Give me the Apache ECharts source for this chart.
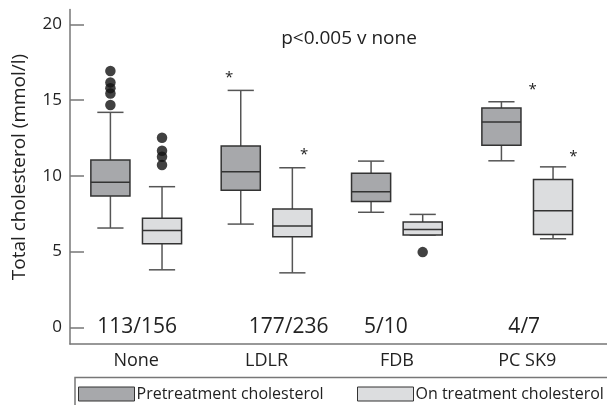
<!DOCTYPE html>
<html><head><meta charset="utf-8">
<script src="https://cdn.jsdelivr.net/npm/echarts@6/dist/echarts.min.js"></script>
<style>html,body{margin:0;padding:0;background:#fff}#c{width:607px;height:405px}</style>
</head><body><div id="c"></div>
<script>
// ---- data ----
const categories = ['None', 'LDLR', 'FDB', 'PC SK9'];
const seriesNames = ['Pretreatment cholesterol', 'On treatment cholesterol'];
// [lower whisker, Q1, median, Q3, upper whisker]
const preBoxes = [
  [6.56, 8.67, 9.58, 11.05, 14.2],
  [6.82, 9.05, 10.28, 11.97, 15.65],
  [7.6, 8.32, 8.96, 10.17, 10.98],
  [11.0, 12.02, 13.56, 14.48, 14.9]
];
const onBoxes = [
  [3.8, 5.52, 6.4, 7.2, 9.29],
  [3.6, 5.98, 6.69, 7.81, 10.54],
  [6.1, 6.1, 6.47, 6.95, 7.46],
  [5.85, 6.14, 7.7, 9.77, 10.6]
];
// outliers: [category index, value]
const preOutliers = [[0, 16.93], [0, 16.18], [0, 15.8], [0, 15.45], [0, 14.68]];
const onOutliers = [[0, 12.52], [0, 11.66], [0, 11.27], [0, 10.72], [2, 4.97]];
// significance stars: [category index, series index, value]
const stars = [[1, 0, 16.6], [1, 1, 11.56], [3, 0, 15.83], [3, 1, 11.43]];
const nLabels = ['113/156', '177/236', '5/10', '4/7'];
const yTicks = [0, 5, 10, 15, 20];
const annotation = 'p<0.005 v none';
const yTitle = 'Total cholesterol (mmol/l)';

// ---- layout / style ----
const FONT = '"Open Sans"';
const TEXT = '#222';
const AXIS = '#777';
const FILLS = ['#a7a8ab', '#dcdddf'];
const OFFS = [-0.198, 0.198];
const BOX_W = 0.3;
const starDx = [[-0.09, 0.09], [-0.09, 0.09], [0, 0], [0.24, 0.157]]; // per category, per series (category units)
const nLabelDx = [1, 22, -11, -3];

const chart = echarts.init(document.getElementById('c'));

function boxRender(si) {
  return function (params, api) {
    const i = api.value(0);
    const cx = i + OFFS[si];
    const pLo = api.coord([cx, api.value(1)]);
    const pQ1 = api.coord([cx, api.value(2)]);
    const pMd = api.coord([cx, api.value(3)]);
    const pQ3 = api.coord([cx, api.value(4)]);
    const pHi = api.coord([cx, api.value(5)]);
    const w = api.size([BOX_W, 0])[0];
    const cap = w * 0.67;
    const x = pLo[0];
    const wl = { stroke: '#555', lineWidth: 1.5 };
    return {
      type: 'group',
      children: [
        { type: 'line', shape: { x1: x, y1: pQ3[1], x2: x, y2: pHi[1] }, style: wl },
        { type: 'line', shape: { x1: x - cap / 2, y1: pHi[1], x2: x + cap / 2, y2: pHi[1] }, style: wl },
        { type: 'line', shape: { x1: x, y1: pQ1[1], x2: x, y2: pLo[1] }, style: wl },
        { type: 'line', shape: { x1: x - cap / 2, y1: pLo[1], x2: x + cap / 2, y2: pLo[1] }, style: wl },
        { type: 'rect', shape: { x: x - w / 2, y: pQ3[1], width: w, height: pQ1[1] - pQ3[1] },
          style: { fill: FILLS[si], stroke: '#333', lineWidth: 1.5 } },
        { type: 'line', shape: { x1: x - w / 2, y1: pMd[1], x2: x + w / 2, y2: pMd[1] },
          style: { stroke: '#333', lineWidth: 1.5 } }
      ]
    };
  };
}

function boxData(arr) {
  return arr.map((b, i) => [i].concat(b));
}

const series = [
  { name: seriesNames[0], type: 'custom', renderItem: boxRender(0), data: boxData(preBoxes),
    encode: { x: 0, y: [1, 2, 3, 4, 5] }, itemStyle: { color: FILLS[0], borderColor: '#333' } },
  { name: seriesNames[1], type: 'custom', renderItem: boxRender(1), data: boxData(onBoxes),
    encode: { x: 0, y: [1, 2, 3, 4, 5] }, itemStyle: { color: FILLS[1], borderColor: '#333' } },
  { type: 'scatter', symbol: 'circle', symbolSize: 10.5, itemStyle: { color: '#111' },
    data: preOutliers.map(d => [d[0] + OFFS[0], d[1]]), silent: true },
  { type: 'scatter', symbol: 'circle', symbolSize: 10.5, itemStyle: { color: '#111' },
    data: onOutliers.map(d => [d[0] + OFFS[1], d[1]]), silent: true },
  { type: 'custom', silent: true,
    data: stars.map(s => [s[0] + OFFS[s[1]] + starDx[s[0]][s[1]], s[2]]),
    renderItem: function (params, api) {
      const p = api.coord([api.value(0), api.value(1)]);
      return { type: 'text', x: p[0], y: p[1] + 2,
        style: { text: '*', fill: TEXT, font: '15px ' + FONT, align: 'center', verticalAlign: 'middle' } };
    } },
  { type: 'custom', silent: true,
    data: nLabels.map((t, i) => [i, 0]),
    renderItem: function (params, api) {
      const i = params.dataIndex;
      const p = api.coord([api.value(0), api.value(1)]);
      return { type: 'text', x: p[0] + nLabelDx[i], y: p[1],
        style: { text: nLabels[i], fill: TEXT, font: '21px ' + FONT, align: 'center', verticalAlign: 'middle' } };
    } }
];

chart.setOption({
  animation: false,
  backgroundColor: '#fff',
  textStyle: { fontFamily: FONT },
  title: { text: annotation, left: 344, top: 24, textAlign: 'center',
    textStyle: { fontFamily: FONT, fontSize: 19, fontWeight: 'normal', color: TEXT } },
  grid: { left: 70, top: 9.4, width: 537, height: 334.6, containLabel: false },
  xAxis: {
    type: 'value', min: -0.508, max: 3.612,
    axisLine: { show: true, onZero: false, lineStyle: { color: AXIS, width: 1.5 } },
    axisTick: { show: false }, splitLine: { show: false },
    axisLabel: { customValues: [0, 1, 2, 3], formatter: v => categories[Math.round(v)],
      color: TEXT, fontSize: 18, fontFamily: FONT, margin: 8 }
  },
  yAxis: {
    type: 'value', min: -1.1, max: 21,
    axisLine: { show: true, onZero: false, lineStyle: { color: AXIS, width: 1.5 } },
    axisTick: { show: true, inside: true, length: 14, customValues: yTicks, lineStyle: { color: AXIS, width: 1.5 } },
    axisLabel: { customValues: yTicks, color: TEXT, fontSize: 17, fontFamily: FONT, margin: 8 },
    splitLine: { show: false }
  },
  legend: [
    { data: [{ name: seriesNames[0], icon: 'rect', itemStyle: { color: FILLS[0], borderColor: '#333', borderWidth: 1 } }],
      left: 78, top: 386, itemWidth: 56, itemHeight: 14, padding: 0, selectedMode: false,
      textStyle: { fontFamily: FONT, fontSize: 16, color: TEXT, padding: [0, 0, 0, -3] } },
    { data: [{ name: seriesNames[1], icon: 'rect', itemStyle: { color: FILLS[1], borderColor: '#333', borderWidth: 1 } }],
      left: 357, top: 386, itemWidth: 56, itemHeight: 14, padding: 0, selectedMode: false,
      textStyle: { fontFamily: FONT, fontSize: 16, color: TEXT, padding: [0, 0, 0, -3] } }
  ],
  graphic: [
    { type: 'rect', shape: { x: 75, y: 377.5, width: 540, height: 40 },
      style: { fill: 'none', stroke: AXIS, lineWidth: 1.5 }, silent: true },
    { type: 'text', x: 20, y: 167, rotation: Math.PI / 2,
      style: { text: yTitle, fill: TEXT, font: '19px ' + FONT, align: 'center', verticalAlign: 'middle' } }
  ],
  series: series
});
</script></body></html>
